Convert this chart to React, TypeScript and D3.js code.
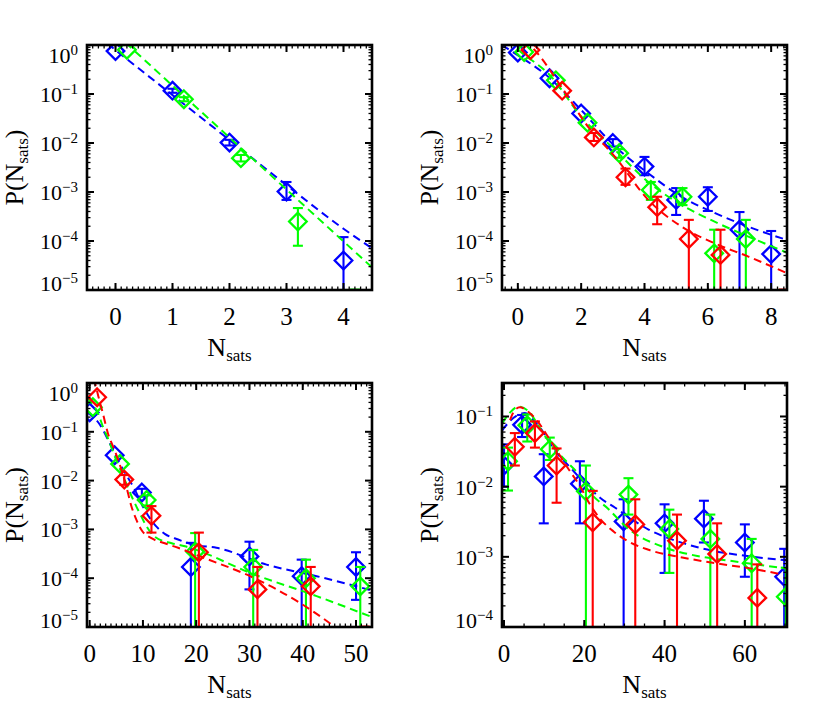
import React from 'react';
import * as d3 from 'd3';

const BLUE = '#0000ff';
const GREEN = '#00ff00';
const RED = '#ff0000';

// ---------- Panel 1 (top-left) ----------
const p1BlueX = [0, 1, 2, 3, 4];
const p1BlueY = [0.75, 0.117, 0.0102, 0.00102, 4e-5];
const p1BlueLo = [null, 0.106, 0.0089, 6.9e-4, 1e-7];
const p1BlueHi = [null, 0.128, 0.0116, 1.6e-3, 1.2e-4];
const p1GreenX = [0.2, 1.2, 2.2, 3.2, 4.2];
const p1GreenY = [0.8, 0.078, 0.0049, 2.5e-4, 3e-6];
const p1GreenLo = [null, 0.071, 0.0042, 8e-5, 1e-7];
const p1GreenHi = [null, 0.086, 0.0057, 4.7e-4, 1.02e-5];
const p1BlueFitX = [-0.5, 0, 1, 2, 3, 4, 4.5];
const p1BlueFitY = [2.29, 0.79, 0.095, 0.0115, 0.00138, 1.78e-4, 7.1e-5];
const p1GreenFitX = [-0.5, 0.2, 1.2, 2.2, 3.2, 4.5];
const p1GreenFitY = [5.75, 1.05, 0.091, 0.0079, 6.9e-4, 2.9e-5];

// ---------- Panel 2 (top-right) ----------
const p2BlueX = [0, 1, 2, 3, 4, 5, 6, 7, 8];
const p2BlueY = [0.7, 0.21, 0.04, 0.01, 0.0033, 6.9e-4, 8e-4, 1.7e-4, 5.4e-5];
const p2BlueLo = [null, null, null, 0.0085, 0.0022, 3.4e-4, 4.1e-4, 1e-7, 1e-7];
const p2BlueHi = [null, null, null, 0.012, 0.0052, 1.2e-3, 1.25e-3, 3.9e-4, 1.6e-4];
const p2GreenX = [0.2, 1.2, 2.2, 3.2, 4.2, 5.2, 6.2, 7.2];
const p2GreenY = [0.72, 0.19, 0.026, 0.0062, 1.1e-3, 8e-4, 5.6e-5, 1.1e-4];
const p2GreenLo = [null, null, null, 0.005, 6.9e-4, 5.4e-4, 1e-7, 1e-7];
const p2GreenHi = [null, null, null, 0.0075, 1.6e-3, 1.2e-3, 1.7e-4, 2.7e-4];
const p2RedX = [0.4, 1.4, 2.4, 3.4, 4.4, 5.4, 6.4, 8.4];
const p2RedY = [0.79, 0.117, 0.013, 2e-3, 4.9e-4, 1.1e-4, 5.2e-5, 3e-6];
const p2RedLo = [null, null, 0.011, 1.4e-3, 2.2e-4, 1e-7, 1e-7, 1e-7];
const p2RedHi = [null, null, 0.016, 3e-3, 8e-4, 2.7e-4, 1.7e-4, 1.02e-5];
const p2BlueFitX = [-0.5, -0.26, 0.96, 2.0, 3.07, 4.12, 5.18, 6.23, 7.28, 8.5];
const p2BlueFitY = [1.0, 0.79, 0.224, 0.047, 0.0085, 0.0024, 7.9e-4, 3.7e-4, 1.95e-4, 1.05e-4];
const p2GreenFitX = [-0.3, -0.1, 1.06, 2.0, 3.07, 4.12, 5.18, 6.23, 7.28, 8.5];
const p2GreenFitY = [1.26, 0.93, 0.224, 0.0347, 0.0072, 0.0016, 5.4e-4, 2.45e-4, 1.23e-4, 5.8e-5];
const p2RedFitX = [0.2, 0.53, 1.38, 2.22, 3.07, 4.12, 5.18, 6.23, 7.28, 8.5];
const p2RedFitY = [1.26, 0.79, 0.138, 0.0214, 0.0052, 6.9e-4, 1.95e-4, 8.9e-5, 4.8e-5, 2.2e-5];

// ---------- Panel 3 (bottom-left) ----------
const p3BlueX = [0, 4.7, 9.8, 19, 30, 39.8, 50];
const p3BlueY = [0.25, 0.033, 0.0057, 1.7e-4, 2.8e-4, 1.1e-4, 1.7e-4];
const p3BlueLo = [null, null, 0.0047, 1e-7, 5.9e-5, 1e-7, 3.6e-5];
const p3BlueHi = [null, null, 0.0068, 5.3e-4, 5.6e-4, 2.4e-4, 3.4e-4];
const p3GreenX = [0.6, 5.7, 10.7, 19.8, 30.7, 40.6, 50.8];
const p3GreenY = [0.32, 0.022, 0.004, 3.5e-4, 1.7e-4, 1e-4, 6.8e-5];
const p3GreenLo = [null, null, 0.0031, 1e-7, 1e-7, 1e-7, 1e-7];
const p3GreenHi = [null, null, 0.005, 8.4e-4, 3.8e-4, 2.4e-4, 1.7e-4];
const p3RedX = [1.4, 6.5, 11.6, 20.5, 31.5, 41.5, 51.6];
const p3RedY = [0.51, 0.0105, 0.0019, 3.4e-4, 5.9e-5, 6.8e-5, 3e-6];
const p3RedLo = [null, 0.0082, 8.6e-4, 1e-7, 1e-7, 1e-7, 1e-7];
const p3RedHi = [null, 0.013, 3e-3, 8.6e-4, 1.7e-4, 1.7e-4, 1.02e-5];
const p3BlueFitX = [-0.5, 1.9, 3.8, 5.3, 6.9, 8.5, 9.7, 11.3, 12.5, 14.1, 16.6, 19.8, 23.8, 33.2, 42.6, 53];
const p3BlueFitY = [0.251, 0.141, 0.0575, 0.0263, 0.0129, 0.00646, 0.00339, 0.0017, 0.00115, 8.1e-4, 6.2e-4, 4.8e-4, 4.2e-4, 1.9e-4, 1.1e-4, 5.6e-5];
const p3GreenFitX = [-0.5, 0, 1.6, 2.5, 3.45, 5, 6.6, 8.2, 9.4, 10.7, 12.2, 15.4, 17.9, 20, 30.1, 42.6, 53];
const p3GreenFitY = [0.5, 0.437, 0.234, 0.126, 0.0724, 0.0263, 0.0102, 0.00398, 0.00214, 0.00115, 7.1e-4, 5.2e-4, 4.5e-4, 3.8e-4, 1.29e-4, 4.3e-5, 1.6e-5];
const p3RedFitX = [0.8, 1.6, 2.5, 3.45, 4.7, 6, 6.9, 7.85, 8.8, 9.7, 11.6, 14.1, 16.6, 20.7, 30.1, 39.5, 45.8, 53];
const p3RedFitY = [1.26, 0.55, 0.234, 0.0912, 0.0417, 0.0162, 0.0074, 0.00295, 0.00155, 9.8e-4, 6.6e-4, 5.2e-4, 4.2e-4, 2.8e-4, 1.1e-4, 3.1e-5, 1.05e-5, 2.5e-6];

// ---------- Panel 4 (bottom-right) ----------
const p4BlueX = [0, 4.5, 9.9, 18.9, 29.8, 40, 49.8, 60, 69.8];
const p4BlueY = [0.02, 0.076, 0.014, 0.011, 0.0032, 0.003, 0.0035, 0.0016, 5.2e-4];
const p4BlueLo = [0.01, 0.051, 0.003, 0.003, 1e-7, 5.9e-4, 0.0016, 5.2e-4, 1e-7];
const p4BlueHi = [0.04, 0.105, 0.029, 0.023, 0.0066, 0.0056, 0.0063, 0.0029, 1.3e-3];
const p4GreenX = [1, 5.8, 11.4, 20.4, 31, 41.2, 51.4, 61.7, 70.2];
const p4GreenY = [0.023, 0.075, 0.034, 0.0086, 0.0077, 0.0025, 0.0018, 8.1e-4, 2.7e-4];
const p4GreenLo = [0.0088, 0.044, 0.024, 1e-7, 0.004, 5.9e-4, 1e-7, 1e-7, 1e-7];
const p4GreenHi = [0.036, 0.107, 0.05, 0.02, 0.0132, 0.0047, 0.004, 0.0018, 7e-4];
const p4RedX = [2.7, 7.7, 13.1, 22.1, 32.7, 43.1, 53.1, 63.1];
const p4RedY = [0.037, 0.058, 0.02, 0.0031, 0.0029, 0.0017, 0.0011, 2.6e-4];
const p4RedLo = [0.02, 0.036, 0.0059, 1e-7, 1e-7, 1e-7, 1e-7, 1e-7];
const p4RedHi = [0.058, 0.085, 0.035, 0.0087, 0.0066, 0.004, 0.003, 7.8e-4];
const p4BlueFitX = [-0.5, 1.4, 3.5, 5.2, 7.3, 9.5, 12, 16.8, 20.6, 24, 27.7, 36, 44.4, 52.7, 61, 70.5];
const p4BlueFitY = [0.063, 0.085, 0.105, 0.112, 0.089, 0.063, 0.037, 0.018, 0.0105, 0.0069, 0.005, 0.00245, 0.00158, 0.0012, 0.00102, 8.9e-4];
const p4GreenFitX = [-0.5, 1.4, 3.5, 6, 9.35, 11.4, 15.2, 18.9, 21, 26, 31, 40.2, 48.5, 56.8, 70.5];
const p4GreenFitY = [0.079, 0.112, 0.138, 0.12, 0.063, 0.0417, 0.024, 0.0141, 0.0089, 0.0048, 0.0025, 0.00135, 0.00102, 8.7e-4, 6.8e-4];
const p4RedFitX = [1.5, 2.25, 3.9, 6.4, 8.1, 11.4, 15.6, 18.9, 21.4, 23.9, 27.3, 30.6, 36, 44.4, 52.7, 61, 69.4];
const p4RedFitY = [0.089, 0.112, 0.135, 0.112, 0.089, 0.047, 0.0195, 0.0102, 0.0056, 0.0035, 0.0023, 0.0017, 0.00126, 9.8e-4, 8.1e-4, 6.9e-4, 5.6e-4];

// axis settings
const p1XDomain = [-0.5, 4.5];
const p2XDomain = [-0.5, 8.5];
const p3XDomain = [-0.5, 53];
const p4XDomain = [-0.5, 70.5];
const p123YDomain = [1e-5, 1];
const p4YDomain = [1e-4, 0.3];

type Series = {
  color: string;
  x: number[];
  y: number[];
  lo: (number | null)[];
  hi: (number | null)[];
  fitX: number[];
  fitY: number[];
};

const FONT = 'Liberation Serif, Times New Roman, Times, serif';

function rangeStep(a: number, b: number, step: number): number[] {
  const out: number[] = [];
  const start = Math.ceil(a / step - 1e-9) * step;
  for (let v = start; v <= b + 1e-9; v += step) out.push(+v.toFixed(6));
  return out;
}

function Panel(props: {
  id: string;
  left: number;
  top: number;
  width: number;
  height: number;
  xDomain: number[];
  xMajor: number;
  xMinor: number;
  yDomain: number[];
  series: Series[];
}) {
  const { id, left, top, width, height, xDomain, xMajor, xMinor, yDomain, series } = props;
  const right = left + width;
  const bottom = top + height;
  const xs = d3.scaleLinear().domain(xDomain).range([left, right]);
  const ys = d3.scaleLog().domain(yDomain).range([bottom, top]);

  const xMajors = rangeStep(xDomain[0], xDomain[1], xMajor);
  const xMinors = rangeStep(xDomain[0], xDomain[1], xMinor);

  const dLo = Math.floor(Math.log10(yDomain[0]) + 1e-9);
  const dHi = Math.ceil(Math.log10(yDomain[1]) - 1e-9);
  const yMajors: number[] = [];
  const yMinors: number[] = [];
  for (let d = dLo; d <= dHi; d++) {
    const base = Math.pow(10, d);
    if (base >= yDomain[0] * 0.999 && base <= yDomain[1] * 1.001) yMajors.push(base);
    for (let k = 2; k <= 9; k++) {
      const v = k * base;
      if (v >= yDomain[0] && v <= yDomain[1]) yMinors.push(v);
    }
  }

  const line = d3
    .line<[number, number]>()
    .x((d) => xs(d[0]))
    .y((d) => ys(d[1]))
    .curve(d3.curveMonotoneX);

  const R = 8.8;
  const cap = 5;
  const majLen = 7;
  const minLen = 3.5;
  const textStyle = { fontFamily: FONT };

  return (
    <g>
      <defs>
        <clipPath id={`clip-${id}`}>
          <rect x={left} y={top} width={width} height={height} />
        </clipPath>
      </defs>
      <g clipPath={`url(#clip-${id})`}>
        {series.map((s, si) => (
          <g key={si}>
            <path
              d={line(s.fitX.map((x, i) => [x, s.fitY[i]] as [number, number])) || ''}
              fill="none"
              stroke={s.color}
              strokeWidth={2}
              strokeDasharray="8,5"
            />
            {s.x.map((x, i) => {
              const lo = s.lo[i];
              const hi = s.hi[i];
              if (lo == null || hi == null) return null;
              const cx = xs(x);
              const y1 = ys(lo);
              const y2 = ys(hi);
              return (
                <g key={`e${i}`} stroke={s.color} strokeWidth={2.1}>
                  <line x1={cx} x2={cx} y1={y1} y2={y2} />
                  <line x1={cx - cap} x2={cx + cap} y1={y1} y2={y1} />
                  <line x1={cx - cap} x2={cx + cap} y1={y2} y2={y2} />
                </g>
              );
            })}
            {s.x.map((x, i) => {
              const cx = xs(x);
              const cy = ys(s.y[i]);
              return (
                <path
                  key={`d${i}`}
                  d={`M${cx},${cy - R}L${cx + R},${cy}L${cx},${cy + R}L${cx - R},${cy}Z`}
                  fill="none"
                  stroke={s.color}
                  strokeWidth={2.3}
                />
              );
            })}
          </g>
        ))}
      </g>
      {/* ticks */}
      <g stroke="#000" strokeWidth={1.3}>
        {xMinors.map((t, i) => (
          <g key={`xm${i}`}>
            <line x1={xs(t)} x2={xs(t)} y1={bottom} y2={bottom - minLen} />
            <line x1={xs(t)} x2={xs(t)} y1={top} y2={top + minLen} />
          </g>
        ))}
        {xMajors.map((t, i) => (
          <g key={`xM${i}`} strokeWidth={2}>
            <line x1={xs(t)} x2={xs(t)} y1={bottom} y2={bottom - majLen} />
            <line x1={xs(t)} x2={xs(t)} y1={top} y2={top + majLen} />
          </g>
        ))}
        {yMinors.map((t, i) => (
          <g key={`ym${i}`}>
            <line x1={left} x2={left + minLen} y1={ys(t)} y2={ys(t)} />
            <line x1={right} x2={right - minLen} y1={ys(t)} y2={ys(t)} />
          </g>
        ))}
        {yMajors.map((t, i) => (
          <g key={`yM${i}`} strokeWidth={2}>
            <line x1={left} x2={left + majLen} y1={ys(t)} y2={ys(t)} />
            <line x1={right} x2={right - majLen} y1={ys(t)} y2={ys(t)} />
          </g>
        ))}
      </g>
      <rect x={left} y={top} width={width} height={height} fill="none" stroke="#000" strokeWidth={2.6} />
      {/* x tick labels */}
      {xMajors.map((t, i) => (
        <text key={`xl${i}`} x={xs(t)} y={bottom + 35} textAnchor="middle" fontSize={25} style={textStyle} fill="#000">
          {String(t)}
        </text>
      ))}
      {/* y tick labels */}
      {yMajors.map((t, i) => {
        const d = Math.round(Math.log10(t));
        const exp = d < 0 ? '\u2212' + String(-d) : String(d);
        const base = Math.min(Math.max(ys(t) + 8, top + 18), bottom + 1);
        return (
          <text key={`yl${i}`} x={left - 9} y={base} textAnchor="end" fontSize={22} style={textStyle} fill="#000">
            10
            <tspan dy={-8} fontSize={15}>
              {exp}
            </tspan>
          </text>
        );
      })}
      {/* x title */}
      <text x={(left + right) / 2} y={bottom + 66} textAnchor="middle" fontSize={26} style={textStyle} fill="#000">
        N
        <tspan dy={5} fontSize={17}>
          sats
        </tspan>
      </text>
      {/* y title */}
      <text
        transform={`translate(${left - 64},${(top + bottom) / 2}) rotate(-90)`}
        textAnchor="middle"
        fontSize={26}
        style={textStyle}
        fill="#000"
      >
        P(N
        <tspan dy={5} fontSize={17}>
          sats
        </tspan>
        <tspan dy={-5}>)</tspan>
      </text>
    </g>
  );
}

export default function App() {
  const s1: Series[] = [
    { color: BLUE, x: p1BlueX, y: p1BlueY, lo: p1BlueLo, hi: p1BlueHi, fitX: p1BlueFitX, fitY: p1BlueFitY },
    { color: GREEN, x: p1GreenX, y: p1GreenY, lo: p1GreenLo, hi: p1GreenHi, fitX: p1GreenFitX, fitY: p1GreenFitY },
  ];
  const s2: Series[] = [
    { color: BLUE, x: p2BlueX, y: p2BlueY, lo: p2BlueLo, hi: p2BlueHi, fitX: p2BlueFitX, fitY: p2BlueFitY },
    { color: GREEN, x: p2GreenX, y: p2GreenY, lo: p2GreenLo, hi: p2GreenHi, fitX: p2GreenFitX, fitY: p2GreenFitY },
    { color: RED, x: p2RedX, y: p2RedY, lo: p2RedLo, hi: p2RedHi, fitX: p2RedFitX, fitY: p2RedFitY },
  ];
  const s3: Series[] = [
    { color: BLUE, x: p3BlueX, y: p3BlueY, lo: p3BlueLo, hi: p3BlueHi, fitX: p3BlueFitX, fitY: p3BlueFitY },
    { color: GREEN, x: p3GreenX, y: p3GreenY, lo: p3GreenLo, hi: p3GreenHi, fitX: p3GreenFitX, fitY: p3GreenFitY },
    { color: RED, x: p3RedX, y: p3RedY, lo: p3RedLo, hi: p3RedHi, fitX: p3RedFitX, fitY: p3RedFitY },
  ];
  const s4: Series[] = [
    { color: BLUE, x: p4BlueX, y: p4BlueY, lo: p4BlueLo, hi: p4BlueHi, fitX: p4BlueFitX, fitY: p4BlueFitY },
    { color: GREEN, x: p4GreenX, y: p4GreenY, lo: p4GreenLo, hi: p4GreenHi, fitX: p4GreenFitX, fitY: p4GreenFitY },
    { color: RED, x: p4RedX, y: p4RedY, lo: p4RedLo, hi: p4RedHi, fitX: p4RedFitX, fitY: p4RedFitY },
  ];
  return (
    <svg
      width={830}
      height={720}
      viewBox="0 0 830 720"
      style={{ position: 'absolute', left: 0, top: 0, background: '#fff' }}
    >
      <rect x={0} y={0} width={830} height={720} fill="#fff" />
      <Panel id="p1" left={87} top={45} width={285} height={245} xDomain={p1XDomain} xMajor={1} xMinor={0.1} yDomain={p123YDomain} series={s1} />
      <Panel id="p2" left={502} top={45} width={285} height={245} xDomain={p2XDomain} xMajor={2} xMinor={0.2} yDomain={p123YDomain} series={s2} />
      <Panel id="p3" left={87} top={383} width={285} height={244} xDomain={p3XDomain} xMajor={10} xMinor={1} yDomain={p123YDomain} series={s3} />
      <Panel id="p4" left={502} top={383} width={285} height={244} xDomain={p4XDomain} xMajor={20} xMinor={5} yDomain={p4YDomain} series={s4} />
    </svg>
  );
}
